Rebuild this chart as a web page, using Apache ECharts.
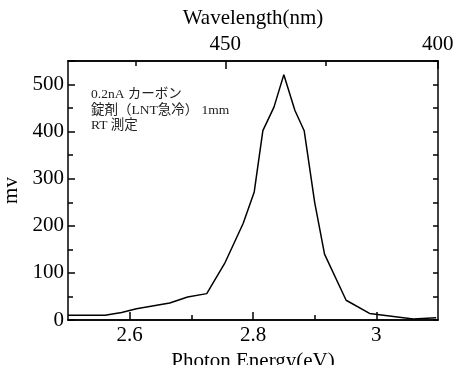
<!DOCTYPE html>
<html>
<head>
<meta charset="utf-8">
<script src="https://cdn.jsdelivr.net/npm/echarts@6/dist/echarts.min.js"></script>
<style>
  html, body { margin: 0; padding: 0; background: #fff; }
  #chart { width: 456px; height: 365px; }
</style>
</head>
<body>
<div id="chart"></div>
<script>
// photon energy (eV) and signal (mV)
const energy = [2.5, 2.56, 2.587, 2.611, 2.665, 2.694, 2.725, 2.754, 2.784, 2.802, 2.816,
  2.834, 2.85, 2.868, 2.883, 2.9, 2.916, 2.951, 2.989, 3.06, 3.097];
const mv = [10, 10, 16, 24, 36, 49, 56, 120, 205, 272, 402,
  452, 521, 445, 402, 250, 140, 42, 14, 2, 5];

const energyLabels = [2.6, 2.8, 3];
const energyMinor = [2.7, 2.9];
const waveLabels = [450, 400];
const waveMinor = [475, 425];
const HC = 1239.84;

const note = '0.2nA カーボン\n錠剤（LNT急冷） 1mm\nRT 測定';

const font = '"Liberation Serif", "Noto Sans CJK JP", serif';
const black = '#000';

const chart = echarts.init(document.getElementById('chart'));

const baseX = {
  type: 'value',
  min: 2.5,
  max: 3.1,
  axisLine: {show: true, onZero: false, lineStyle: {color: black, width: 1.5}},
  splitLine: {show: false},
  axisLabel: {show: false},
};

chart.setOption({
  animation: false,
  textStyle: {fontFamily: font},
  title: {
    text: note,
    left: 86,
    top: 82,
    textStyle: {fontSize: 13.5, fontWeight: 'normal', color: '#222', lineHeight: 15.5, fontFamily: font}
  },
  grid: {left: 68, right: 18, top: 61, bottom: 45, containLabel: false, outerBoundsMode: 'none'},
  xAxis: [
    {
      ...baseX,
      position: 'bottom',
      name: 'Photon Energy(eV)',
      nameLocation: 'middle',
      nameGap: 25,
      nameTextStyle: {fontSize: 21, color: black, fontFamily: font},
      axisTick: {inside: true, length: 8, lineStyle: {color: black, width: 1.5}, customValues: energyLabels},
      axisLabel: {show: true, fontSize: 21, color: black, margin: 5, fontFamily: font, customValues: energyLabels}
    },
    {
      ...baseX,
      position: 'bottom',
      axisTick: {inside: true, length: 5, lineStyle: {color: black, width: 1.5}, customValues: energyMinor}
    },
    {
      ...baseX,
      position: 'top',
      name: 'Wavelength(nm)',
      nameLocation: 'middle',
      nameGap: 24,
      nameTextStyle: {fontSize: 21, color: black, fontFamily: font},
      axisTick: {inside: true, length: 8, lineStyle: {color: black, width: 1.5},
        customValues: waveLabels.map(w => HC / w)},
      axisLabel: {show: true, fontSize: 21, color: black, margin: 6, fontFamily: font,
        customValues: waveLabels.map(w => HC / w),
        formatter: v => String(Math.round(HC / v))}
    },
    {
      ...baseX,
      position: 'top',
      axisTick: {inside: true, length: 5, lineStyle: {color: black, width: 1.5},
        customValues: waveMinor.map(w => HC / w)}
    }
  ],
  yAxis: [
    {
      type: 'value',
      position: 'left',
      min: 0,
      max: 550,
      interval: 100,
      name: 'mv',
      nameLocation: 'middle',
      nameGap: 39,
      nameTextStyle: {fontSize: 21, color: black, fontFamily: font},
      axisLine: {show: true, lineStyle: {color: black, width: 1.5}},
      axisTick: {inside: true, length: 7, lineStyle: {color: black, width: 1.5}},
      minorTick: {show: true, splitNumber: 2, length: 5, lineStyle: {color: black, width: 1.5}},
      splitLine: {show: false},
      axisLabel: {fontSize: 21, color: black, margin: 4, showMaxLabel: false, fontFamily: font}
    },
    {
      type: 'value',
      position: 'right',
      min: 0,
      max: 550,
      interval: 100,
      axisLine: {show: true, lineStyle: {color: black, width: 1.5}},
      axisTick: {inside: true, length: 5, lineStyle: {color: black, width: 1.5}},
      minorTick: {show: true, splitNumber: 2, length: 5, lineStyle: {color: black, width: 1.5}},
      splitLine: {show: false},
      axisLabel: {show: false}
    }
  ],
  series: [
    {
      type: 'line',
      xAxisIndex: 0,
      yAxisIndex: 0,
      data: energy.map((e, i) => [e, mv[i]]),
      showSymbol: false,
      lineStyle: {color: black, width: 1.5}
    }
  ]
});
</script>
</body>
</html>
